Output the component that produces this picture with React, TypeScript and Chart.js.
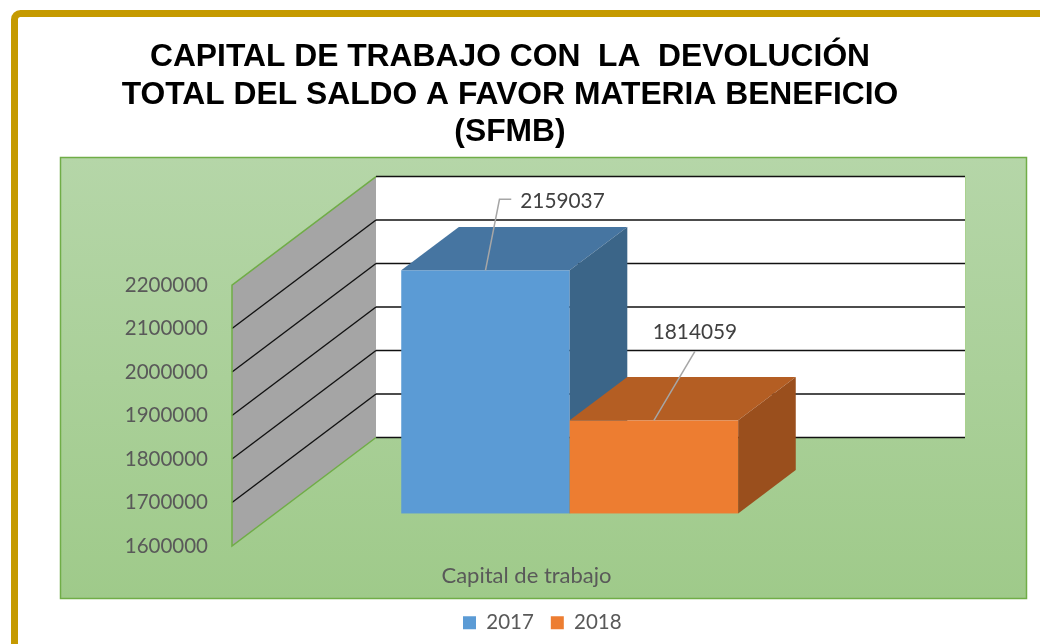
import React, { useEffect, useRef } from 'react';
import { Chart, registerables } from 'chart.js';

Chart.register(...registerables);

// ---- data ----
const titleLines = [
  'CAPITAL DE TRABAJO CON  LA  DEVOLUCIÓN',
  'TOTAL DEL SALDO A FAVOR MATERIA BENEFICIO',
  '(SFMB)',
];
const categories = ['Capital de trabajo'];
const seriesNames = ['2017', '2018'];
const values2017 = [2159037];
const values2018 = [1814059];
const yTickValues = [1600000, 1700000, 1800000, 1900000, 2000000, 2100000, 2200000];
const axisTitle = 'Capital de trabajo';

const W = 1040;
const H = 644;

const frame3d = {
  id: 'frame3d',
  beforeDraw(chart: any) {
    const { ctx } = chart;
    ctx.save();
    ctx.fillStyle = '#ffffff';
    ctx.fillRect(0, 0, W, H);
    // gold outer frame
    ctx.strokeStyle = '#C59A00';
    ctx.lineWidth = 7;
    ctx.beginPath();
    ctx.moveTo(14.5, H + 20);
    ctx.lineTo(14.5, 20);
    ctx.arcTo(14.5, 13.5, 21, 13.5, 6);
    ctx.lineTo(W + 20, 13.5);
    ctx.stroke();
    // green plot panel
    const g = ctx.createLinearGradient(0, 157, 0, 599);
    g.addColorStop(0, '#B5D6A8');
    g.addColorStop(1, '#9FCA8A');
    ctx.fillStyle = g;
    ctx.fillRect(60.5, 157.5, 966, 441);
    ctx.strokeStyle = '#70AD47';
    ctx.lineWidth = 1.5;
    ctx.strokeRect(60.5, 157.5, 966, 441);
    ctx.restore();
  },
  afterLayout(chart: any, _args: any, opts: any) {
    const t = chart.titleBlock;
    if (t) {
      t.left = opts.titleSpan[0];
      t.right = opts.titleSpan[1];
      t.width = t.right - t.left;
    }
    const lg = chart.legend;
    if (lg) {
      const pad = opts.legendPad;
      const w = lg.width;
      const h = lg.height;
      lg.left = opts.legendStart[0] - pad;
      lg.right = lg.left + w;
      lg.top = opts.legendStart[1] - pad;
      lg.bottom = lg.top + h;
    }
  },
  beforeDatasetsDraw(chart: any, _args: any, opts: any) {
    const { ctx, chartArea } = chart;
    const ys = chart.scales.y;
    const { dx, dy } = opts.depth;
    const L = chartArea.left;
    const R = chartArea.right;
    const top = ys.getPixelForValue(ys.max);
    const bot = ys.getPixelForValue(ys.min);
    ctx.save();

    // back wall
    ctx.fillStyle = '#ffffff';
    ctx.fillRect(L + dx, top + dy, R - L, bot - top);
    ctx.strokeStyle = '#A9D18E';
    ctx.lineWidth = 1;
    ctx.beginPath();
    ctx.moveTo(R + dx + 0.5, top + dy);
    ctx.lineTo(R + dx + 0.5, bot + dy);
    ctx.stroke();
    ctx.strokeStyle = '#111111';
    ctx.lineWidth = 1.6;
    ys.ticks.forEach((t: any) => {
      const py = ys.getPixelForValue(t.value) + dy;
      ctx.beginPath();
      ctx.moveTo(L + dx, py);
      ctx.lineTo(R + dx, py);
      ctx.stroke();
    });

    // left side wall
    ctx.fillStyle = '#A5A5A5';
    ctx.beginPath();
    ctx.moveTo(L, top);
    ctx.lineTo(L + dx, top + dy);
    ctx.lineTo(L + dx, bot + dy);
    ctx.lineTo(L, bot);
    ctx.closePath();
    ctx.fill();
    ctx.strokeStyle = '#111111';
    ctx.lineWidth = 1.4;
    ys.ticks.forEach((t: any) => {
      if (t.value === ys.min || t.value === ys.max) return;
      const py = ys.getPixelForValue(t.value);
      ctx.beginPath();
      ctx.moveTo(L, py);
      ctx.lineTo(L + dx, py + dy);
      ctx.stroke();
    });
    ctx.strokeStyle = '#70AD47';
    ctx.lineWidth = 1.5;
    ctx.beginPath();
    ctx.moveTo(L + dx, bot + dy);
    ctx.lineTo(L, bot);
    ctx.lineTo(L, top);
    ctx.lineTo(L + dx, top + dy);
    ctx.stroke();

    // 3D bars
    const [f1, f2] = opts.barDepth;
    const ax = dx * f1, ay = dy * f1, bx = dx * f2, by = dy * f2;
    const anchors: any[] = [];
    chart.data.datasets.forEach((ds: any, di: number) => {
      const meta = chart.getDatasetMeta(di);
      if (meta.hidden) return;
      meta.data.forEach((el: any, i: number) => {
        const p = el.getProps(['x', 'y', 'width'], true);
        const x0 = p.x - p.width / 2;
        const x1 = p.x + p.width / 2;
        const yt = p.y;
        const yb = bot;
        // front
        ctx.fillStyle = ds.backgroundColor;
        ctx.fillRect(x0 + ax, yt + ay, x1 - x0, yb - yt);
        // top
        ctx.fillStyle = opts.topColors[di];
        ctx.beginPath();
        ctx.moveTo(x0 + ax, yt + ay);
        ctx.lineTo(x1 + ax, yt + ay);
        ctx.lineTo(x1 + bx, yt + by);
        ctx.lineTo(x0 + bx, yt + by);
        ctx.closePath();
        ctx.fill();
        // side
        ctx.fillStyle = opts.sideColors[di];
        ctx.beginPath();
        ctx.moveTo(x1 + ax, yt + ay);
        ctx.lineTo(x1 + bx, yt + by);
        ctx.lineTo(x1 + bx, yb + by);
        ctx.lineTo(x1 + ax, yb + ay);
        ctx.closePath();
        ctx.fill();
        anchors.push({ x: p.x + ax, y: yt + ay, v: ds.data[i], di });
      });
    });

    // data labels with leader lines
    ctx.font = '20.8px Lato';
    ctx.textBaseline = 'middle';
    ctx.textAlign = 'center';
    anchors.forEach((a) => {
      const off = opts.labelOffsets[a.di];
      const tx = a.x + off.dx;
      const ty = a.y + off.dy;
      const text = String(a.v);
      const tw = ctx.measureText(text).width;
      const left = tx - tw / 2;
      ctx.strokeStyle = '#A6A6A6';
      ctx.lineWidth = 1.5;
      ctx.beginPath();
      if (left > a.x + 20) {
        ctx.moveTo(a.x, a.y);
        ctx.lineTo(a.x + 14, ty - 2);
        ctx.lineTo(left - 9, ty - 2);
      } else {
        ctx.moveTo(a.x, a.y);
        ctx.lineTo(tx, ty + 19);
      }
      ctx.stroke();
      ctx.fillStyle = '#404040';
      ctx.fillText(text, tx, ty);
    });

    ctx.restore();
    return false;
  },
};

export default function App() {
  const ref = useRef<HTMLCanvasElement>(null);
  useEffect(() => {
    if (!ref.current) return;
    const chart = new Chart(ref.current, {
      type: 'bar',
      data: {
        labels: categories,
        datasets: [
          {
            label: seriesNames[0],
            data: values2017,
            backgroundColor: '#5B9BD5',
            borderWidth: 0,
            barPercentage: 1,
            categoryPercentage: 0.572,
          },
          {
            label: seriesNames[1],
            data: values2018,
            backgroundColor: '#ED7D31',
            borderWidth: 0,
            barPercentage: 1,
            categoryPercentage: 0.572,
          },
        ],
      },
      options: {
        responsive: false,
        animation: false,
        devicePixelRatio: 1,
        events: [],
        layout: { padding: { left: 20, right: 219, top: 0, bottom: 7 } },
        scales: {
          x: {
            grid: { display: false, drawTicks: false },
            border: { display: false },
            ticks: { display: false },
            title: {
              display: true,
              text: axisTitle,
              color: '#595959',
              font: { family: 'Lato', size: 22 },
              padding: { top: 17.1, bottom: 0 },
            },
          },
          y: {
            min: yTickValues[0],
            max: yTickValues[yTickValues.length - 1],
            afterBuildTicks: (s: any) => {
              s.ticks = yTickValues.map((v) => ({ value: v }));
            },
            afterFit: (s: any) => {
              s.width = 212;
            },
            grid: { display: false, drawTicks: false },
            border: { display: false },
            ticks: {
              padding: 24,
              color: '#595959',
              font: { family: 'Lato', size: 20.5 },
              callback: (v: any) => String(v),
            },
          },
        },
        plugins: {
          title: {
            display: true,
            text: titleLines,
            color: '#000000',
            font: { family: '"Liberation Sans", Arial, sans-serif', size: 31.8, weight: 'bold', lineHeight: 1.185 },
            padding: { top: 38.5, bottom: 133.5 },
          },
          legend: {
            display: true,
            position: 'bottom',
            align: 'start',
            labels: {
              boxWidth: 13,
              boxHeight: 13,
              padding: 17,
              color: '#595959',
              font: { family: 'Lato', size: 20.5 },
            },
          },
          tooltip: { enabled: false },
          frame3d: {
            depth: { dx: 144, dy: -108.5 },
            barDepth: [0.3, 0.7],
            topColors: ['#4675A1', '#B45E23'],
            sideColors: ['#3B6588', '#9A4F1D'],
            labelOffsets: [
              { dx: 77, dy: -69 },
              { dx: 41, dy: -88 },
            ],
            titleSpan: [10, 1010],
            legendStart: [463, 612.5],
            legendPad: 17,
          },
        },
      } as any,
      plugins: [frame3d as any],
    });
    return () => chart.destroy();
  }, []);
  return (
    <div style={{ position: 'fixed', left: 0, top: 0, width: W, height: H }}>
      <canvas ref={ref} width={W} height={H} style={{ display: 'block', width: W, height: H }} />
    </div>
  );
}
